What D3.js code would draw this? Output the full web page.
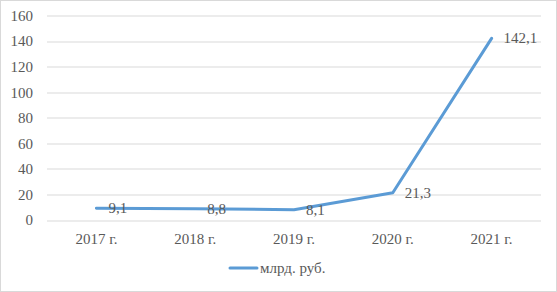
<!DOCTYPE html>
<html>
<head>
<meta charset="utf-8">
<script src="https://cdn.jsdelivr.net/npm/d3@7"></script>
<style>
  html, body { margin: 0; padding: 0; background: #fff; }
</style>
</head>
<body>
<svg id="chart" width="557" height="292"></svg>
<script>
// Line chart: yearly values, billions of roubles
var years = ['2017 г.', '2018 г.', '2019 г.', '2020 г.', '2021 г.'];
var values = [9.1, 8.8, 8.1, 21.3, 142.1];
var valueLabels = ['9,1', '8,8', '8,1', '21,3', '142,1'];
var yTicks = [0, 20, 40, 60, 80, 100, 120, 140, 160];
var seriesName = 'млрд. руб.';

var FONT = "'Liberation Serif', 'Times New Roman', Times, serif";
var W = 557, H = 292;
var margin = { top: 15.5, right: 16, bottom: 72, left: 47 };
var iw = W - margin.left - margin.right;
var ih = H - margin.top - margin.bottom;

var svg = d3.select('#chart');

// outer chart border
svg.append('rect')
    .attr('x', 0.5).attr('y', 0.5)
    .attr('width', W - 1).attr('height', H - 1)
    .attr('fill', '#fff').attr('stroke', '#d9d9d9');

var g = svg.append('g').attr('transform', 'translate(' + margin.left + ',' + margin.top + ')');

var x = d3.scaleBand().domain(years).range([0, iw]);
var y = d3.scaleLinear().domain([0, 160]).range([ih, 0]);

// gridlines
g.append('g').selectAll('line').data(yTicks).enter().append('line')
    .attr('x1', 0).attr('x2', iw)
    .attr('y1', function (d) { return Math.round(y(d)) + 0.5; })
    .attr('y2', function (d) { return Math.round(y(d)) + 0.5; })
    .attr('stroke', '#d9d9d9').attr('stroke-width', 1);

function styleText(sel) {
    sel.style('font-family', FONT).style('font-size', '15px').style('fill', '#595959');
}

var yAxis = d3.axisLeft(y).tickValues(yTicks).tickSize(0).tickPadding(14);
var ga = g.append('g').call(yAxis).attr('font-family', null);
ga.select('.domain').remove();
styleText(ga.selectAll('text'));

var xAxis = d3.axisBottom(x).tickSize(0).tickPadding(13);
var gx = g.append('g').attr('transform', 'translate(0,' + ih + ')').call(xAxis).attr('font-family', null);
gx.select('.domain').remove();
styleText(gx.selectAll('text'));

var cx = function (d, i) { return x(years[i]) + x.bandwidth() / 2; };

var line = d3.line()
    .x(function (d, i) { return cx(d, i); })
    .y(function (d) { return y(d); });

g.append('path').datum(values)
    .attr('d', line)
    .attr('fill', 'none')
    .attr('stroke', '#5b9bd5')
    .attr('stroke-width', 3)
    .attr('stroke-linejoin', 'round')
    .attr('stroke-linecap', 'round');

// data labels, right of the point
styleText(g.append('g').selectAll('text').data(values).enter().append('text')
    .attr('x', function (d, i) { return cx(d, i) + 12; })
    .attr('y', function (d) { return y(d) + 5; })
    .text(function (d, i) { return valueLabels[i]; }));

// legend
var lg = svg.append('g').attr('transform', 'translate(230,268)');
lg.append('line').attr('x1', 0).attr('x2', 27).attr('y1', 0).attr('y2', 0)
    .attr('stroke', '#5b9bd5').attr('stroke-width', 3).attr('stroke-linecap', 'round');
styleText(lg.append('text').attr('x', 30).attr('y', 5).text(seriesName));
</script>
</body>
</html>
